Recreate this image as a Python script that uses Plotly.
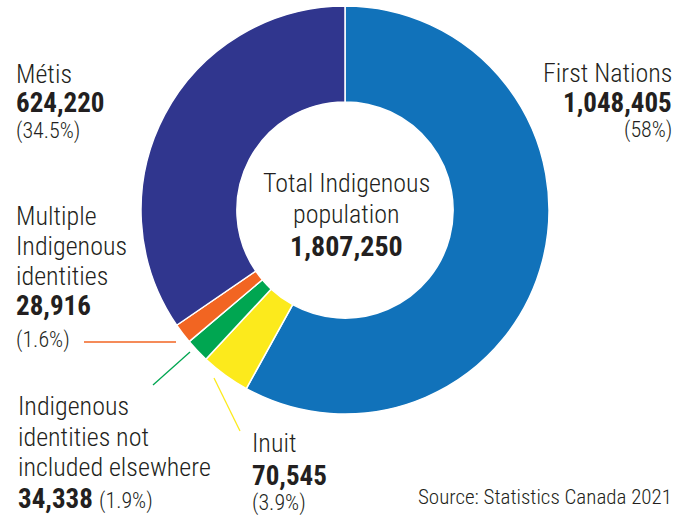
import plotly.graph_objects as go

W, H = 691, 515

groups = ["First Nations", "Inuit", "Indigenous identities not included elsewhere",
          "Multiple Indigenous identities", "Métis"]
counts = [1048405, 70545, 34338, 28916, 624220]
pct_labels = ["(58%)", "(3.9%)", "(1.9%)", "(1.6%)", "(34.5%)"]
colors = ["#1172ba", "#fcea1c", "#00a651", "#f26522", "#30368e"]
total = 1807250
source = "Source: Statistics Canada 2021"

FONT = "Roboto Condensed, Liberation Sans Narrow, Arial Narrow, Liberation Sans, sans-serif"
TXT = "#231f20"

cx, cy, R = 345, 210, 204

fig = go.Figure(go.Pie(
    values=counts, labels=groups, sort=False, direction="clockwise", rotation=0,
    hole=0.53, marker=dict(colors=colors, line=dict(color="white", width=1.5)),
    textinfo="none", hoverinfo="label+value", showlegend=False,
    domain=dict(x=[(cx - R) / W, (cx + R) / W], y=[1 - (cy + R) / H, 1 - (cy - R) / H]),
))

def fmt(v):
    return f"{v:,}"

anns = []
def add(text, px, py, size=26, bold=False, xanchor="left", weight=None):
    t = f"<b>{text}</b>" if bold else text
    if weight is None:
        weight = 700 if bold else 300
    anns.append(dict(text=t, x=px / W, y=1 - py / H, xref="paper", yref="paper",
                     xanchor=xanchor, yanchor="middle", align=xanchor, showarrow=False,
                     font=dict(family=FONT, size=size, color=TXT, weight=weight)))

BS = 27  # bold number size
PS = 22  # percent size
# Métis
add("Métis", 14, 74)
add(fmt(counts[4]), 14, 103, size=BS, bold=True)
add(pct_labels[4], 14, 131, size=PS)
# Multiple (one block, line spacing from the 23px base size)
multi = ("<span style='font-size:26px'>Multiple</span><br>"
         "<span style='font-size:26px'>Indigenous</span><br>"
         "<span style='font-size:26px'>identities</span><br>"
         f"<span style='font-size:{BS}px;font-weight:700'>{fmt(counts[3])}</span>")
add(multi, 14, 261, size=23)
add(pct_labels[3], 14, 340, size=PS)
# Not included elsewhere
add("Indigenous", 16, 406)
add("identities not", 16, 437)
add("included elsewhere", 16, 467)
anns.append(dict(text=f"<b>{fmt(counts[2])}</b> <span style='font-size:{PS}px;font-weight:300'>{pct_labels[2]}</span>",
                 x=16 / W, y=1 - 499 / H, xref="paper", yref="paper", xanchor="left",
                 yanchor="middle", showarrow=False,
                 font=dict(family=FONT, size=BS, color=TXT)))
# Inuit
add("Inuit", 250, 443)
add(fmt(counts[1]), 250, 476, size=BS, bold=True)
add(pct_labels[1], 250, 503, size=PS)
# First Nations
add("First Nations", 674, 73, xanchor="right")
add(fmt(counts[0]), 674, 103, size=BS, bold=True, xanchor="right")
add(pct_labels[0], 674, 130, size=PS, xanchor="right")
# Center
add("Total Indigenous", 346, 183, xanchor="center")
add("population", 346, 214, xanchor="center")
add(fmt(total), 346, 246, size=28, bold=True, xanchor="center")
# Source
add(source, 674, 497, size=21, xanchor="right")

def line(x0, y0, x1, y1, color):
    return dict(type="line", xref="paper", yref="paper", x0=x0 / W, y0=1 - y0 / H,
                x1=x1 / W, y1=1 - y1 / H, line=dict(color=color, width=1.3))

shapes = [
    line(84, 342, 176, 342, colors[3]),
    line(153, 385, 190, 352, colors[2]),
    line(214, 378, 240, 431, colors[1]),
]

fig.update_layout(width=W, height=H, margin=dict(l=0, r=0, t=0, b=0),
                  paper_bgcolor="white", plot_bgcolor="white",
                  annotations=anns, shapes=shapes)

fig.write_html("out.html")
